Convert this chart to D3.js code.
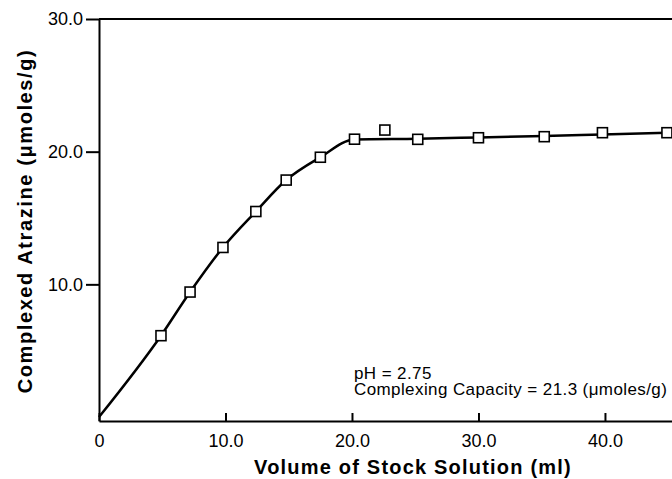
<!DOCTYPE html>
<html>
<head>
<meta charset="utf-8">
<script src="https://cdn.jsdelivr.net/npm/d3@7"></script>
<style>
  body { margin: 0; background: #fff; }
  svg { display: block; font-family: "Liberation Sans", Arial, Helvetica, sans-serif; }
  .axis path, .axis line { stroke: #000; stroke-width: 2; }
  .axis text { font-size: 18px; fill: #000; }
</style>
</head>
<body>
<svg id="chart" width="672" height="479"></svg>
<script>
// measured points (ml of stock solution, complexed atrazine in umoles/g)
var volume    = [4.9, 7.2, 9.8, 12.4, 14.8, 17.5, 20.2, 22.6, 25.2, 30.0, 35.2, 39.8, 44.9];
var complexed = [6.13, 9.42, 12.78, 15.49, 17.86, 19.58, 20.94, 21.63, 20.93, 21.05, 21.13, 21.43, 21.43];

// fitted line as drawn in the figure (the 22.6 ml point sits off it)
var fitVolume    = [0, 4.9, 7.2, 9.8, 12.4, 14.8, 17.5, 20.2, 25.2, 30.0, 35.2, 39.8, 44.9];
var fitComplexed = [0, 6.13, 9.42, 12.78, 15.49, 17.86, 19.58, 20.92, 20.98, 21.07, 21.18, 21.3, 21.43];

var xTicks = [0, 10, 20, 30, 40];
var yTicks = [10, 20, 30];

var svg = d3.select('#chart');
var plotLeft = 99, plotRight = 672, plotTop = 19, plotBottom = 421;

var x = d3.scaleLinear().domain([0, 45.3]).range([plotLeft, plotRight]);
var y = d3.scaleLinear().domain([-0.3, 30]).range([plotBottom, plotTop]);

var xAxis = d3.axisBottom(x)
    .tickValues(xTicks)
    .tickSizeInner(-8)
    .tickSizeOuter(0)
    .tickPadding(13)
    .tickFormat(function(d) { return d === 0 ? '0' : d3.format('.1f')(d); });

var yAxis = d3.axisLeft(y)
    .tickValues(yTicks)
    .tickSizeInner(13)
    .tickSizeOuter(0)
    .tickPadding(3)
    .tickFormat(d3.format('.1f'));

svg.append('g')
    .attr('class', 'axis')
    .attr('transform', 'translate(0,' + plotBottom + ')')
    .call(xAxis);

svg.append('g')
    .attr('class', 'axis')
    .attr('transform', 'translate(' + plotLeft + ',0)')
    .call(yAxis);

// top frame line
svg.append('line')
    .attr('x1', plotLeft).attr('x2', plotRight)
    .attr('y1', plotTop).attr('y2', plotTop)
    .attr('stroke', '#000').attr('stroke-width', 2);

var line = d3.line()
    .x(function(d, i) { return x(fitVolume[i]); })
    .y(function(d) { return y(d); })
    .curve(d3.curveMonotoneX);

svg.append('path')
    .datum(fitComplexed)
    .attr('d', line)
    .attr('fill', 'none')
    .attr('stroke', '#000')
    .attr('stroke-width', 2.5);

var size = 10;
svg.append('g').selectAll('rect')
    .data(complexed)
    .enter()
    .append('rect')
    .attr('x', function(d, i) { return x(volume[i]) - size / 2; })
    .attr('y', function(d) { return y(d) - size / 2; })
    .attr('width', size)
    .attr('height', size)
    .attr('fill', '#fff')
    .attr('stroke', '#000')
    .attr('stroke-width', 1.6);

// axis titles
svg.append('text')
    .attr('x', 413)
    .attr('y', 474)
    .attr('text-anchor', 'middle')
    .style('font-size', '20px')
    .style('font-weight', 'bold')
    .style('letter-spacing', '1.2px')
    .text('Volume of Stock Solution (ml)');

svg.append('text')
    .attr('transform', 'translate(32,221) rotate(-90)')
    .attr('text-anchor', 'middle')
    .style('font-size', '20px')
    .style('font-weight', 'bold')
    .style('letter-spacing', '1.6px')
    .text('Complexed Atrazine (\u03bcmoles/g)');

// annotation
var note = svg.append('text')
    .attr('x', 354)
    .attr('y', 379)
    .style('font-size', '17px')
    .style('letter-spacing', '0.4px');
note.append('tspan').attr('x', 354).text('pH = 2.75');
note.append('tspan').attr('x', 354).attr('dy', 16).text('Complexing Capacity = 21.3 (\u03bcmoles/g)');
</script>
</body>
</html>
